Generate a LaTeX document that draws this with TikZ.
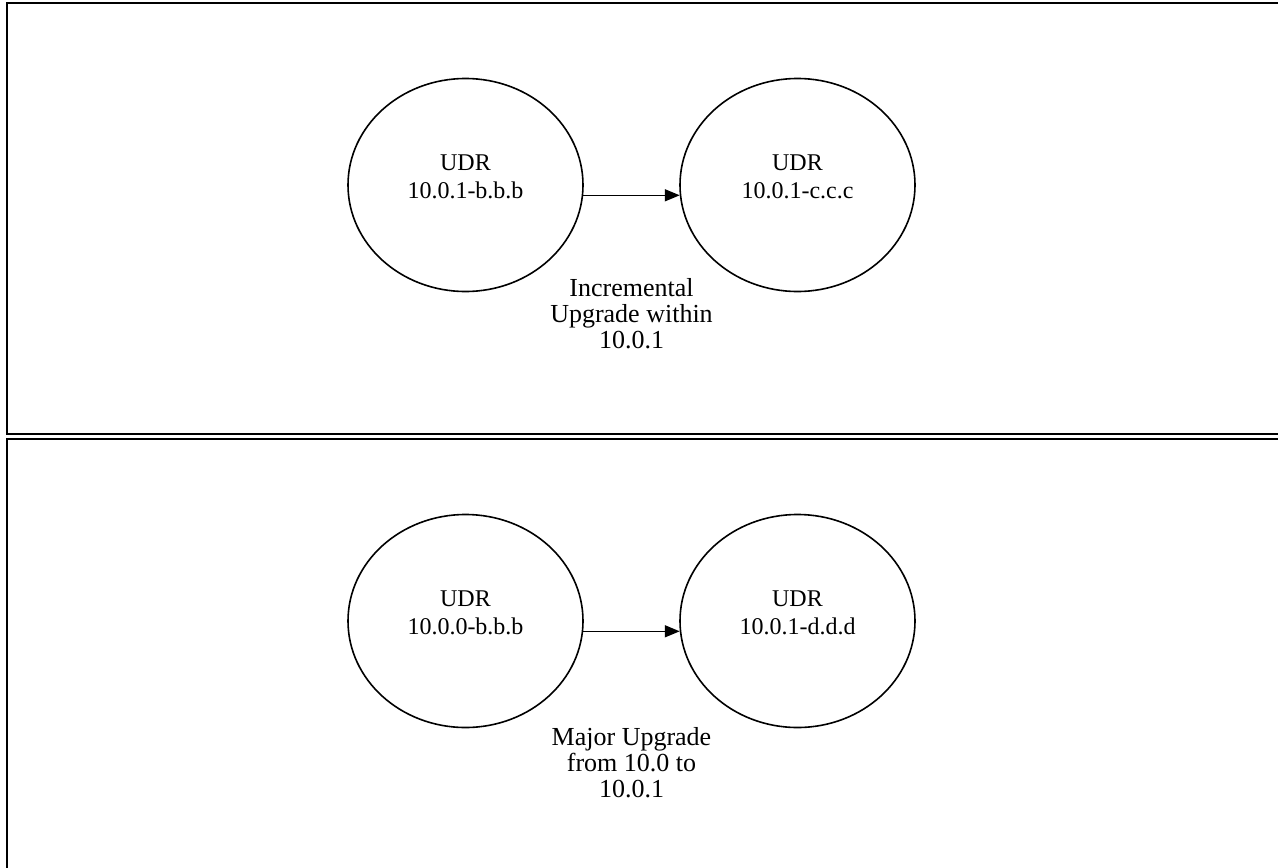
\documentclass[tikz,border=0pt]{standalone}
\usepackage{fontspec}
\setmainfont{Liberation Serif}
\usetikzlibrary{shapes.geometric,arrows.meta}

\tikzset{
	udr/.style={draw, ellipse, line width=1.6pt, minimum width=235pt, minimum height=213pt, inner sep=0pt},
	udrtext/.style={align=center, font=\fontsize{24}{28}\selectfont},
	upgrade/.style={line width=1.6pt, -{Triangle[length=15pt,width=12pt]}},
	caption/.style={align=center, font=\fontsize{26}{26}\selectfont},
	panel/.style={line width=2pt}
}

\begin{document}
\begin{tikzpicture}[x=1pt, y=-1pt]
	\useasboundingbox (0, 0) rectangle (1278, 868);

	% panels
	\draw[panel] (1285, 3) -- (7, 3) -- (7, 434) -- (1285, 434);
	\draw[panel] (1285, 439) -- (7, 439) -- (7, 875);

	% incremental upgrade
	\node[udr] (old1) at (465.5, 185) {};
	\node[udr] (new1) at (797.5, 185) {};
	\node[udrtext] (oldtext1) at ([yshift=8pt]old1.center) {UDR\\10.0.1-b.b.b};
	\node[udrtext] (newtext1) at ([yshift=8pt]new1.center) {UDR\\10.0.1-c.c.c};
	\draw[upgrade] (old1.-5) -- node[caption, yshift=-118pt] (label1) {Incremental\\Upgrade within\\10.0.1} (new1.185);

	% major upgrade
	\node[udr] (old2) at (465.5, 621) {};
	\node[udr] (new2) at (797.5, 621) {};
	\node[udrtext] (oldtext2) at ([yshift=8pt]old2.center) {UDR\\10.0.0-b.b.b};
	\node[udrtext] (newtext2) at ([yshift=8pt]new2.center) {UDR\\10.0.1-d.d.d};
	\draw[upgrade] (old2.-5) -- node[caption, yshift=-131pt] (label2) {Major Upgrade\\from 10.0 to\\10.0.1} (new2.185);

\end{tikzpicture}
\end{document}
